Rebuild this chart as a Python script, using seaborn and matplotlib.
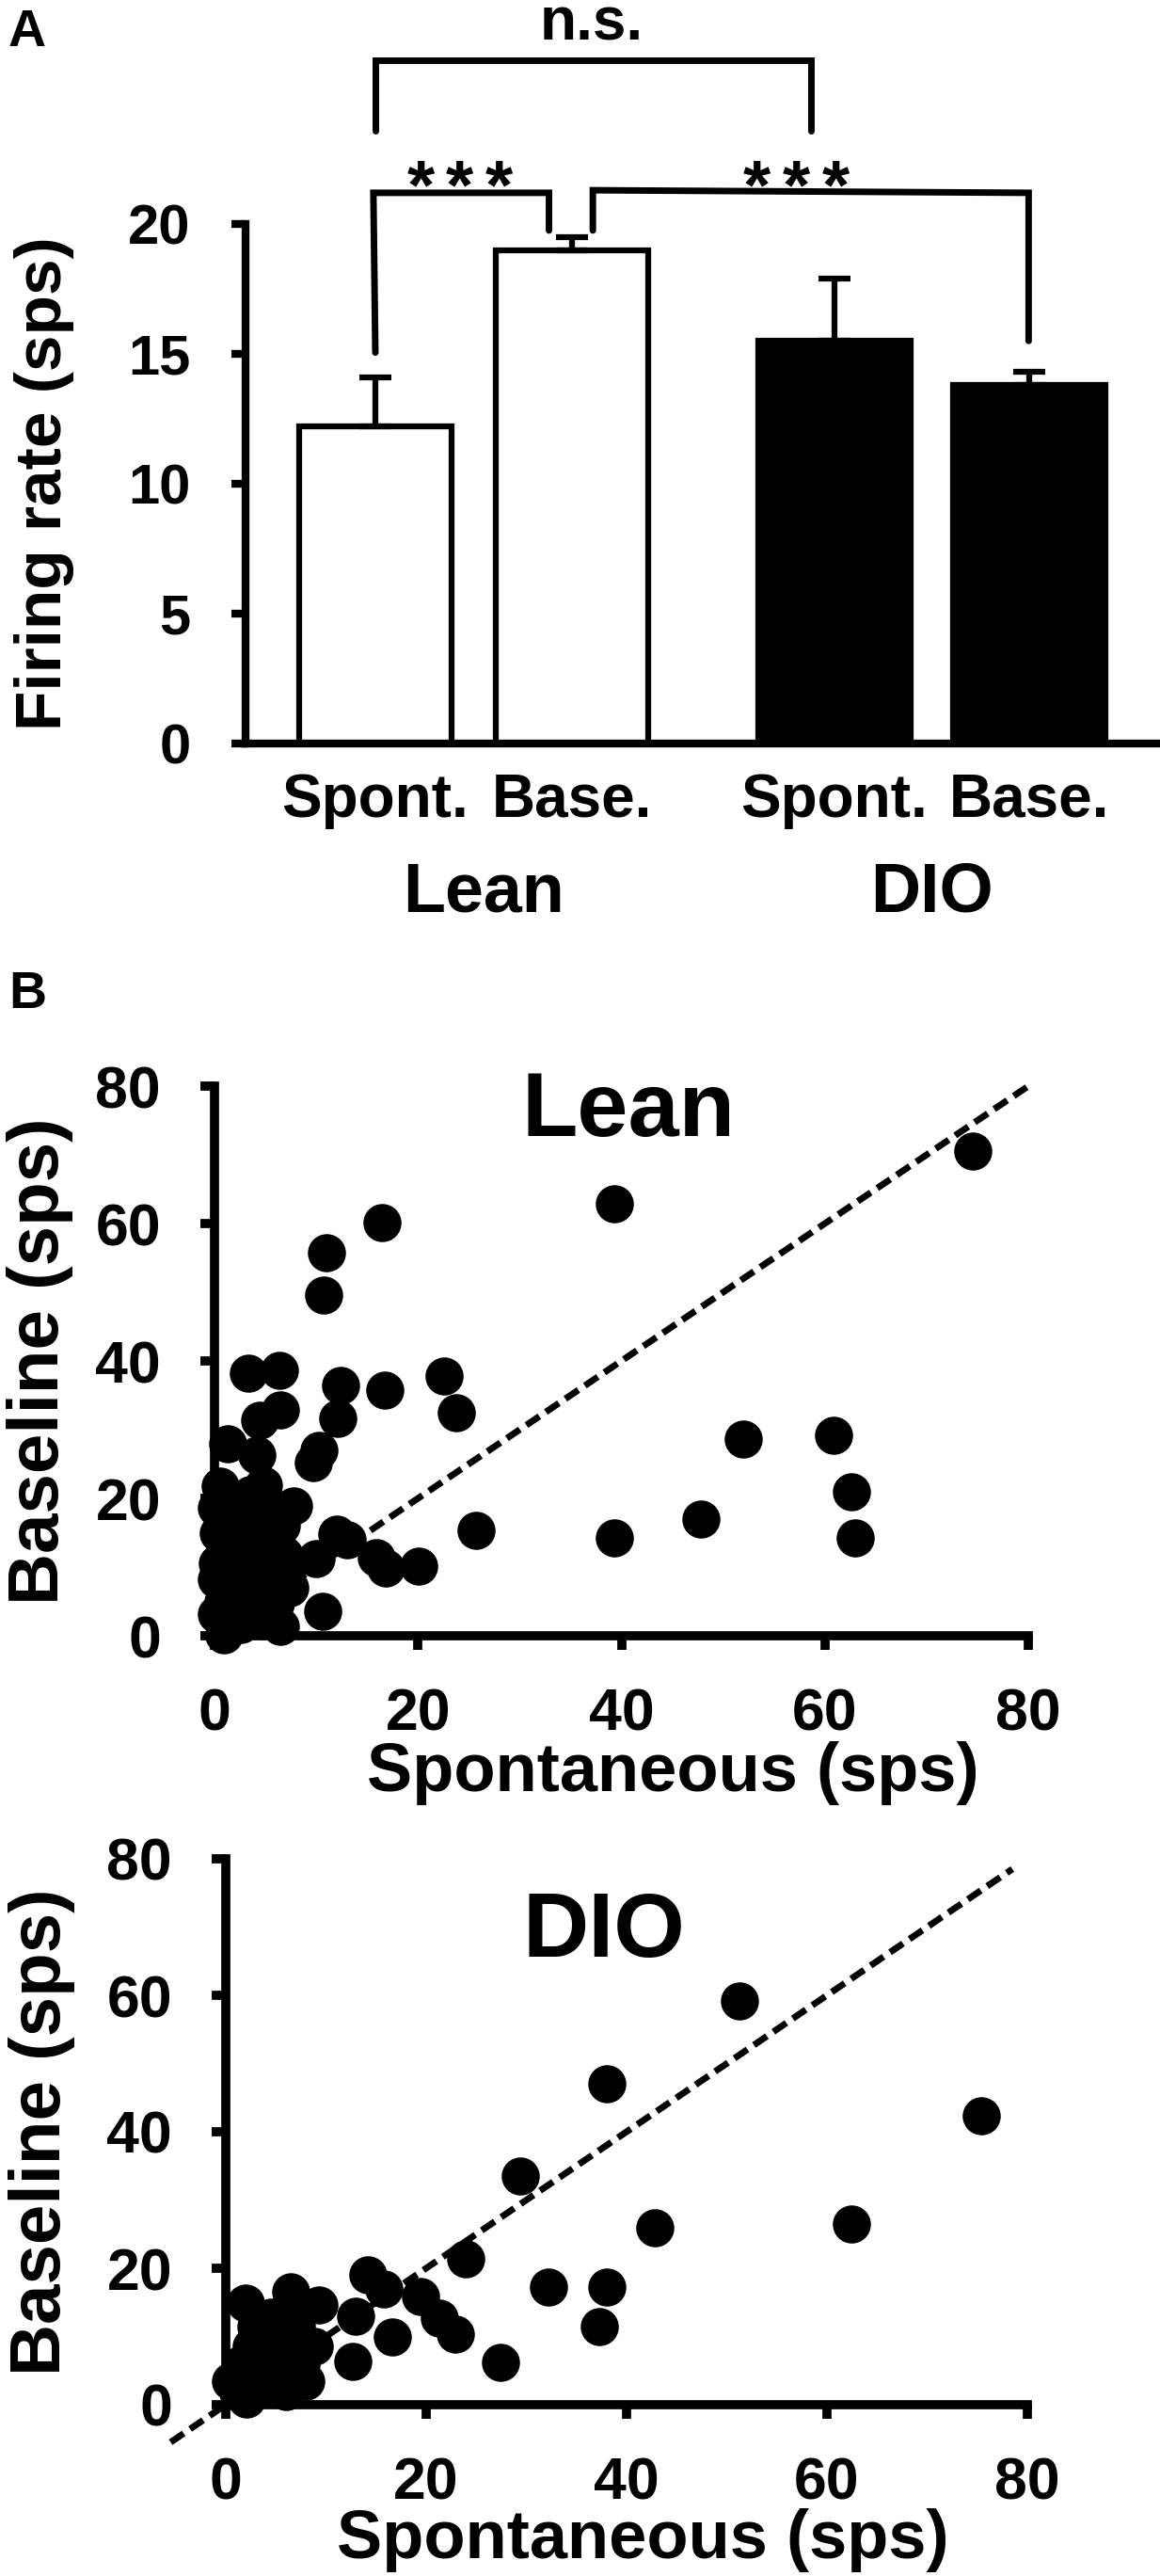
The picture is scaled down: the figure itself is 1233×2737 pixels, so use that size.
import numpy as np
import pandas as pd
import matplotlib
matplotlib.use("Agg")
import matplotlib.pyplot as plt
import seaborn as sns
from matplotlib.transforms import blended_transform_factory

# ---------------- data ----------------
bar_categories = ["Spont.", "Base.", "Spont.", "Base."]
bar_groups = ["Lean", "Lean", "DIO", "DIO"]
bar_positions = [0.0, 1.0, 2.335, 3.325]
bar_means = [12.2, 19.0, 15.5, 13.8]
bar_sem = [1.9, 0.5, 2.4, 0.5]
yticks_a = [0, 5, 10, 15, 20]

scatter_ticks = [0, 20, 40, 60, 80]

lean_spont = [74.5, 39.3, 16.5, 11.0, 10.7, 3.3, 6.4, 12.4, 16.7, 22.6, 23.8, 12.1, 4.4, 6.5,
              10.3, 9.7, 4.2, 1.3, 52.0, 60.9, 62.6, 63.0, 47.8, 39.3, 25.7,
              20.1, 16.8, 15.9, 13.0, 12.0, 10.0, 10.6, 6.5, 7.8, 7.4,
              0.6, 0.2, 4.8, 3.5, 1.8, 5.2, 6.6, 2.5, 0.4, 3.8, 5.8, 1.5, 0.3, 2.8,
              4.6, 6.8, 0.2, 1.6, 3.2, 5.5, 7.0, 2.2, 4.2, 0.8, 6.0, 0.2, 1.8, 3.5,
              0.9, 2.6, 4.8]
lean_base = [70.5, 62.9, 60.1, 55.8, 49.6, 38.2, 38.6, 36.4, 35.7, 37.8, 32.4, 31.6, 31.4, 32.9,
             27.0, 25.2, 26.3, 28.0, 28.6, 29.2, 21.0, 14.2, 17.0, 14.2, 15.4,
             10.1, 9.8, 11.4, 14.0, 14.8, 11.2, 3.6, 1.4, 18.9, 7.0,
             21.8, 18.6, 21.9, 20.5, 19.5, 17.5, 16.0, 16.8, 15.0, 14.5, 13.2, 12.8, 10.6, 11.2,
             10.5, 11.8, 8.2, 8.8, 8.5, 8.0, 9.5, 6.2, 5.8, 5.0, 4.8, 3.2, 3.0, 3.6,
             0.2, 1.6, 2.2]

dio_spont = [51.3, 38.0, 75.4, 29.4, 42.8, 62.4, 23.9, 32.2, 38.0, 37.3, 27.4, 22.9, 21.3,
             19.4, 16.6, 14.2, 15.8, 13.0, 12.7, 9.3, 6.5, 2.0, 8.8, 8.0, 0.5, 2.1,
             3.0, 4.5, 5.5, 2.5, 4.0, 6.5, 7.5, 1.5, 3.5, 5.5, 2.8, 4.5, 6.0, 1.2, 3.8,
             7.0, 5.0]
dio_base = [59.2, 47.0, 42.4, 33.5, 26.0, 26.5, 21.4, 17.3, 17.3, 11.5, 6.2, 10.3, 12.7,
            15.9, 10.0, 19.0, 17.0, 12.9, 6.4, 14.6, 16.5, 14.9, 8.5, 3.4, 3.4, 0.8,
            11.5, 12.8, 10.0, 8.5, 7.5, 8.0, 6.0, 6.0, 5.0, 4.5, 3.0, 2.5, 2.0, 1.8, 9.8,
            11.5, 6.5]

# ---------------- style ----------------
sns.set_style("ticks")
plt.rcParams["font.family"] = ["Liberation Sans", "DejaVu Sans"]
plt.rcParams["font.weight"] = "bold"
plt.rcParams["axes.labelweight"] = "bold"
for key in ["text.color", "axes.labelcolor", "xtick.color", "ytick.color", "axes.edgecolor"]:
    plt.rcParams[key] = "black"

W, H = 1233, 2737
fig = plt.figure(figsize=(W / 100, H / 100), dpi=100)


def frac(l, r, t, b):
    return [l / W, 1 - b / H, (r - l) / W, (b - t) / H]


BLACK = "black"

# ---------------- panel A ----------------
axA = fig.add_axes(frac(261, 1233, 238, 790))
dfA = pd.DataFrame({"pos": bar_positions, "rate": bar_means, "group": bar_groups})
sns.barplot(data=dfA, x="pos", y="rate", hue="group",
            palette={"Lean": "white", "DIO": "black"}, native_scale=True,
            width=0.78, edgecolor=BLACK, linewidth=4.5, errorbar=None,
            legend=False, dodge=False, ax=axA, zorder=2)
axA.errorbar(bar_positions, bar_means, yerr=[np.zeros(len(bar_sem)), bar_sem],
             fmt="none", ecolor=BLACK, elinewidth=4.5, capsize=12, capthick=4.5, zorder=3)
axA.set_xlim(-0.66, 3.99)
axA.set_ylim(0, 20)
axA.set_yticks(yticks_a)
axA.set_xticks(bar_positions)
axA.set_xticklabels(bar_categories)
axA.set_xlabel("")
axA.set_ylabel("Firing rate (sps)", fontsize=50, fontweight="bold")
axA.yaxis.set_label_coords(-0.187, 0.5)
for s in ["top", "right"]:
    axA.spines[s].set_visible(False)
for s in ["left", "bottom"]:
    axA.spines[s].set_linewidth(6)
axA.tick_params(axis="y", direction="out", length=11, width=6, pad=31, labelsize=43)
axA.tick_params(axis="x", length=0, pad=22, labelsize=46)

trA = blended_transform_factory(axA.transData, axA.transAxes)
axA.text(0.55, -0.288, "Lean", transform=trA, ha="center", va="center", fontsize=53, fontweight="bold")
axA.text(2.83, -0.288, "DIO", transform=trA, ha="center", va="center", fontsize=53, fontweight="bold")

BR_LW = 5
axA.plot([0.0, -0.01, 0.883, 0.883], [15.05, 21.2, 21.2, 19.75], color=BLACK, lw=BR_LW,
         clip_on=False, solid_joinstyle="miter")
axA.plot([1.106, 1.106, 3.322, 3.322], [19.75, 21.3, 21.2, 15.5], color=BLACK, lw=BR_LW,
         clip_on=False, solid_joinstyle="miter")
axA.plot([0.0, 0.0, 2.216, 2.216], [23.6, 26.3, 26.3, 23.6], color=BLACK, lw=BR_LW,
         clip_on=False, solid_joinstyle="miter")
star_offsets = [-0.2, 0.0, 0.2]
for cx in [0.43, 2.14]:
    for dx in star_offsets:
        axA.text(cx + dx, 20.6, "*", ha="center", va="baseline", fontsize=54, fontweight="bold")
axA.text(1.10, 27.1, "n.s.", ha="center", va="baseline", fontsize=46, fontweight="bold")

fig.text(9 / W, 1 - 35 / H, "A", ha="left", va="center", fontsize=40, fontweight="bold")
fig.text(9 / W, 1 - 1057 / H, "B", ha="left", va="center", fontsize=40, fontweight="bold")


# ---------------- panel B ----------------
def scatter_panel(rect, xs, ys, title, title_xy, line_range, ylab_x, xlab_xy):
    ax = fig.add_axes(rect)
    ax.plot(line_range, line_range, color=BLACK, lw=5, linestyle=(0, (2.4, 1.2)),
            clip_on=False, zorder=2)
    sns.scatterplot(x=xs, y=ys, s=850, color=BLACK, linewidth=0, ax=ax,
                    clip_on=False, zorder=5, legend=False)
    ax.set_xlim(0, 80)
    ax.set_ylim(0, 80)
    ax.set_xticks(scatter_ticks)
    ax.set_yticks(scatter_ticks)
    for s in ["top", "right"]:
        ax.spines[s].set_visible(False)
    for s in ["left", "bottom"]:
        ax.spines[s].set_linewidth(7)
    ax.tick_params(direction="out", length=11, width=7, labelsize=45)
    ax.tick_params(axis="y", pad=30)
    ax.tick_params(axis="x", pad=28)
    ax.set_xlabel("Spontaneous (sps)", fontsize=52, fontweight="bold")
    ax.set_ylabel("Baseline (sps)", fontsize=55, fontweight="bold")
    ax.yaxis.set_label_coords(ylab_x, 0.5)
    ax.xaxis.set_label_coords(*xlab_xy)
    ax.xaxis.label.set_va("center")
    ax.yaxis.label.set_va("center")
    ax.text(title_xy[0], title_xy[1], title, ha="center", va="center",
            fontsize=70, fontweight="bold")
    return ax


scatter_panel(frac(228, 1093, 1154, 1738), lean_spont, lean_base, "Lean", (40.7, 76.2),
              [0, 80], -0.214, (0.563, -0.25))
scatter_panel(frac(240, 1092, 1975, 2555), dio_spont, dio_base, "DIO", (37.7, 69.1),
              [-5.5, 78.5], -0.23, (0.52, -0.248))

fig.savefig("out.png", dpi=100, facecolor="white")
